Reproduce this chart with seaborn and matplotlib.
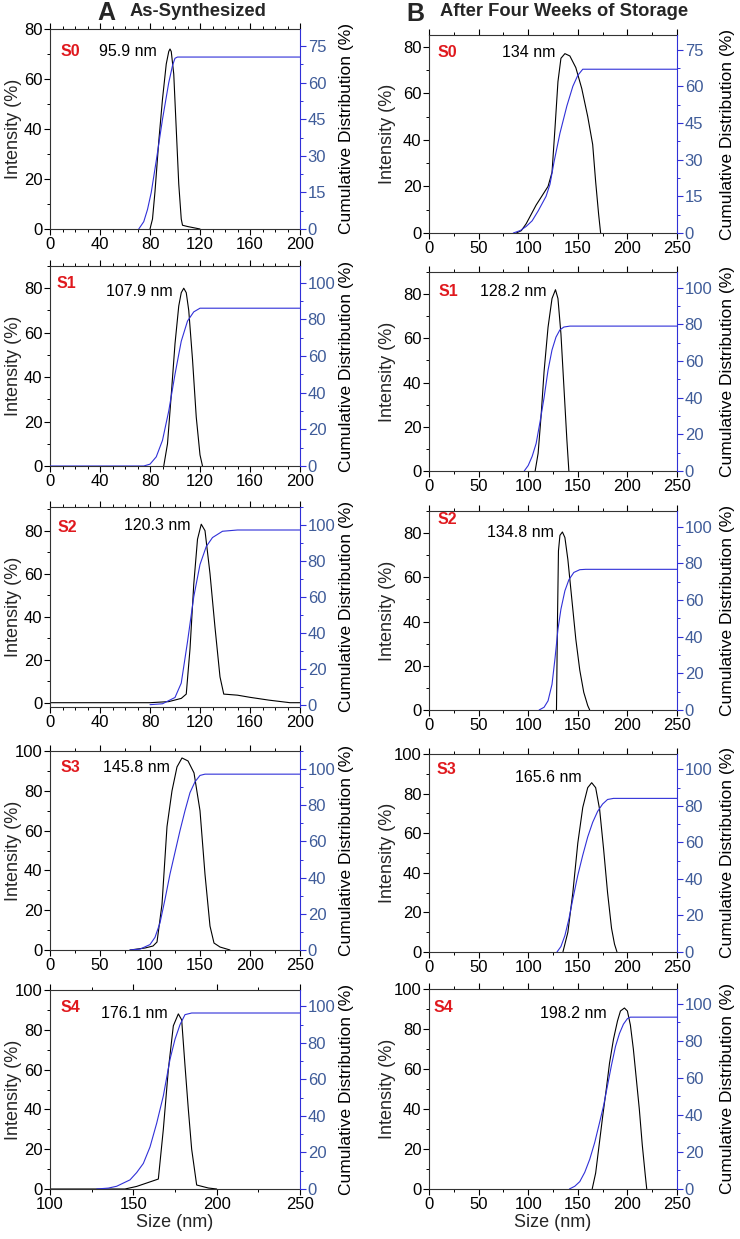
import matplotlib
matplotlib.use("Agg")
import matplotlib.pyplot as plt
import matplotlib.ticker as mticker
import seaborn as sns

# ── Data ────────────────────────────────────────────────────────────────────
SAMPLES = ["S0", "S1", "S2", "S3", "S4"]
PEAKS_A = ["95.9 nm", "107.9 nm", "120.3 nm", "145.8 nm", "176.1 nm"]
PEAKS_B = ["134 nm", "128.2 nm", "134.8 nm", "165.6 nm", "198.2 nm"]

# column A — as-synthesized
A_S0_INT_X = [80, 82, 84, 87, 90, 93, 95, 96, 97, 99, 101, 103, 105, 106, 110, 115, 120]
A_S0_INT_Y = [0, 4, 15, 35, 52, 66, 71, 72, 71, 62, 40, 18, 4, 1.5, 1, 0.5, 0]
A_S0_CUM_X = [71, 75, 78, 81, 85, 90, 95, 98, 100, 102, 200]
A_S0_CUM_Y = [0, 3, 8, 15, 28, 45, 60, 67, 70, 70.5, 70.5]

A_S1_INT_X = [91, 94, 97, 100, 103, 105, 107, 109, 111, 114, 117, 120, 122]
A_S1_INT_Y = [0, 10, 32, 55, 72, 78, 80, 78, 70, 48, 22, 5, 0]
A_S1_CUM_X = [0, 75, 80, 85, 90, 95, 100, 105, 110, 115, 120, 200]
A_S1_CUM_Y = [0, 0, 1, 5, 14, 30, 50, 68, 79, 84, 86, 86]

A_S2_INT_X = [0, 80, 95, 105, 109, 112, 115, 118, 121, 124, 128, 132, 136, 139, 150, 160, 175, 192, 200]
A_S2_INT_Y = [0, 0, 0.5, 2, 4, 25, 55, 76, 83, 80, 60, 35, 12, 4, 3.5, 2.5, 1.2, 0, 0]
A_S2_CUM_X = [80, 90, 100, 105, 110, 115, 120, 125, 130, 138, 150, 200]
A_S2_CUM_Y = [0, 0.5, 4, 12, 35, 60, 78, 88, 93, 96.5, 97.2, 97.2]

A_S3_INT_X = [80, 95, 103, 107, 112, 117, 122, 127, 132, 138, 144, 150, 155, 160, 164, 170, 180]
A_S3_INT_Y = [0, 1, 2, 4, 23, 62, 80, 92, 96.5, 95, 89, 70, 38, 12, 3.5, 1.5, 0]
A_S3_CUM_X = [80, 90, 100, 105, 110, 115, 120, 125, 130, 135, 140, 145, 150, 155, 250]
A_S3_CUM_Y = [0, 0.5, 3, 7, 15, 28, 42, 54, 66, 77, 87, 93, 96.5, 97.2, 97.2]

A_S4_INT_X = [100, 145, 152, 158, 165, 168, 171, 174, 177, 179, 181, 183, 185, 188, 195, 200]
A_S4_INT_Y = [0, 0, 1.3, 3, 5, 30, 60, 82, 88, 85, 62, 40, 20, 2, 0.5, 0]
A_S4_CUM_X = [128, 135, 140, 148, 152, 156, 160, 164, 168, 172, 175, 178, 181, 185, 250]
A_S4_CUM_Y = [0, 0.5, 1.5, 5, 9, 14, 23, 36, 51, 71, 82, 90, 95.5, 96.4, 96.4]

# column B — after four weeks of storage
B_S0_INT_X = [88, 93, 98, 103, 108, 114, 120, 124, 127, 130, 133, 137, 142, 148, 154, 160, 165, 168, 171, 173]
B_S0_INT_Y = [0, 1, 4, 8, 12, 16, 20, 26, 45, 65, 75, 77, 76, 71, 62, 50, 38, 22, 8, 0]
B_S0_CUM_X = [85, 92, 98, 104, 110, 118, 122, 126, 132, 139, 145, 150, 155, 250]
B_S0_CUM_Y = [0, 1, 2.7, 5, 9, 15, 20, 29, 40.8, 52, 60, 64.5, 67, 67]

B_S1_INT_X = [107, 110, 113, 116, 120, 124, 127.5, 130, 133, 136, 139, 141]
B_S1_INT_Y = [0, 8, 25, 45, 65, 78, 82, 78, 62, 38, 14, 0]
B_S1_CUM_X = [96, 100, 104, 108, 112, 116, 120, 124, 128, 132, 136, 142, 250]
B_S1_CUM_Y = [0, 3, 8, 15, 27, 40, 55, 66, 73, 77, 78.5, 79, 79]

B_S2_INT_X = [128.5, 129.5, 130.5, 132, 134.5, 137, 140, 144, 148, 152, 156, 160, 162]
B_S2_INT_Y = [0, 40, 72, 79, 80.5, 78, 68, 50, 32, 18, 8, 2, 0]
B_S2_CUM_X = [111, 116, 120, 124, 127, 130, 133, 137, 141, 146, 152, 158, 250]
B_S2_CUM_Y = [0, 1.5, 5, 14, 28, 44, 55, 65, 71, 75, 76.5, 76.7, 76.7]

B_S3_INT_X = [135, 140, 145, 150, 155, 160, 164, 168, 172, 176, 180, 184, 187, 189.5]
B_S3_INT_Y = [0, 10, 30, 55, 73, 83, 85.5, 83, 72, 52, 30, 12, 4, 0]
B_S3_CUM_X = [129, 133, 137, 141, 145, 150, 155, 160, 165, 170, 175, 180, 186, 250]
B_S3_CUM_Y = [0, 3, 9, 18, 29, 42, 53, 63, 71, 77, 81, 83.5, 84.1, 84.1]

B_S4_INT_X = [164.5, 168, 172, 175, 179, 182, 186, 190, 193, 197, 200, 203, 206, 209, 212, 215, 218, 219.5]
B_S4_INT_Y = [0, 8, 24, 36, 51, 63, 75, 84, 89, 90.5, 89, 82, 70, 55, 40, 22, 7, 0]
B_S4_CUM_X = [141.5, 147, 152, 157, 162, 167, 172, 176, 180, 184, 188, 192, 196, 200, 203, 250]
B_S4_CUM_Y = [0, 1.5, 4, 9, 16, 25, 36, 45, 56, 67, 77, 84, 89, 92, 92.8, 92.8]

# ── Style ────────────────────────────────────────────────────────────────────
sns.set_theme(style="ticks")
plt.rcParams["font.family"] = ["Liberation Sans", "DejaVu Sans"]
plt.rcParams.update({
    "axes.linewidth": 0.8,
    "xtick.major.size": 4, "ytick.major.size": 4,
    "xtick.minor.size": 2.5, "ytick.minor.size": 2.5,
    "xtick.major.width": 0.8, "ytick.major.width": 0.8,
    "xtick.minor.width": 0.7, "ytick.minor.width": 0.7,
    "xtick.direction": "out", "ytick.direction": "out",
    "xtick.major.pad": 1.5, "ytick.major.pad": 1.5,
})

LINE_BLUE = "#3030d8"
TICK_BLUE = "#3f5c99"
TICK_FS = 12
LABEL_FS = 13
W, H = 740, 1239

def rect(left, top, right, bottom):
    return [left / W, (H - bottom) / H, (right - left) / W, (bottom - top) / H]

panels = [
    # column A
    dict(ix=A_S0_INT_X, iy=A_S0_INT_Y, cx=A_S0_CUM_X, cy=A_S0_CUM_Y, xl=(0, 200), xs=(40, 10),
         yl=(0, 80), yr=(0, 82), rs=(15, 7.5), box=(50, 29, 300, 229), s=SAMPLES[0], p=PEAKS_A[0],
         sp=(0.08, 0.885), pp=(0.31, 0.885)),
    dict(ix=A_S1_INT_X, iy=A_S1_INT_Y, cx=A_S1_CUM_X, cy=A_S1_CUM_Y, xl=(0, 200), xs=(40, 10),
         yl=(0, 90), yr=(0, 109), rs=(20, 10), box=(50, 266, 300, 466), s=SAMPLES[1], p=PEAKS_A[1],
         sp=(0.064, 0.915), pp=(0.358, 0.872)),
    dict(ix=A_S2_INT_X, iy=A_S2_INT_Y, cx=A_S2_CUM_X, cy=A_S2_CUM_Y, xl=(0, 200), xs=(40, 10),
         yl=(-2, 91), yr=(-1.3, 110), rs=(20, 10), box=(50, 507, 300, 707), s=SAMPLES[2], p=PEAKS_A[2],
         sp=(0.068, 0.90), pp=(0.43, 0.91)),
    dict(ix=A_S3_INT_X, iy=A_S3_INT_Y, cx=A_S3_CUM_X, cy=A_S3_CUM_Y, xl=(0, 250), xs=(50, 25),
         yl=(0, 100), yr=(0, 110), rs=(20, 10), box=(50, 751, 300, 950), s=SAMPLES[3], p=PEAKS_A[3],
         sp=(0.08, 0.917), pp=(0.344, 0.917)),
    dict(ix=A_S4_INT_X, iy=A_S4_INT_Y, cx=A_S4_CUM_X, cy=A_S4_CUM_Y, xl=(100, 250), xs=(50, 25),
         yl=(0, 100), yr=(0, 109), rs=(20, 10), box=(50, 990, 300, 1189), s=SAMPLES[4], p=PEAKS_A[4],
         sp=(0.08, 0.91), pp=(0.338, 0.88), last=True),
    # column B
    dict(ix=B_S0_INT_X, iy=B_S0_INT_Y, cx=B_S0_CUM_X, cy=B_S0_CUM_Y, xl=(0, 250), xs=(50, 25),
         yl=(0, 85), yr=(0, 81), rs=(15, 7.5), box=(429, 35, 677, 233), s=SAMPLES[0], p=PEAKS_B[0],
         sp=(0.075, 0.91), pp=(0.40, 0.91)),
    dict(ix=B_S1_INT_X, iy=B_S1_INT_Y, cx=B_S1_CUM_X, cy=B_S1_CUM_Y, xl=(0, 250), xs=(50, 25),
         yl=(0, 90), yr=(0, 108.5), rs=(20, 10), box=(429, 272, 677, 471), s=SAMPLES[1], p=PEAKS_B[1],
         sp=(0.077, 0.90), pp=(0.34, 0.90)),
    dict(ix=B_S2_INT_X, iy=B_S2_INT_Y, cx=B_S2_CUM_X, cy=B_S2_CUM_Y, xl=(0, 250), xs=(50, 25),
         yl=(0, 90), yr=(0, 108.5), rs=(20, 10), box=(429, 511, 677, 710), s=SAMPLES[2], p=PEAKS_B[2],
         sp=(0.075, 0.955), pp=(0.367, 0.89)),
    dict(ix=B_S3_INT_X, iy=B_S3_INT_Y, cx=B_S3_CUM_X, cy=B_S3_CUM_Y, xl=(0, 250), xs=(50, 25),
         yl=(0, 100), yr=(0, 108.4), rs=(20, 10), box=(429, 754, 677, 952), s=SAMPLES[3], p=PEAKS_B[3],
         sp=(0.07, 0.92), pp=(0.48, 0.88)),
    dict(ix=B_S4_INT_X, iy=B_S4_INT_Y, cx=B_S4_CUM_X, cy=B_S4_CUM_Y, xl=(0, 250), xs=(50, 25),
         yl=(0, 100), yr=(0, 108), rs=(20, 10), box=(429, 989, 677, 1189), s=SAMPLES[4], p=PEAKS_B[4],
         sp=(0.06, 0.91), pp=(0.58, 0.88), last=True),
]

fig = plt.figure(figsize=(W / 100, H / 100), dpi=100)

for pn in panels:
    left, top, right, bottom = pn["box"]
    width = right - left
    col_a = left < 200
    ax = fig.add_axes(rect(*pn["box"]))
    sns.lineplot(x=pn["ix"], y=pn["iy"], ax=ax, color="black", lw=0.8,
                 sort=False, estimator=None)
    ax.set_xlim(*pn["xl"])
    ax.set_ylim(*pn["yl"])
    ax.xaxis.set_major_locator(mticker.MultipleLocator(pn["xs"][0]))
    ax.xaxis.set_minor_locator(mticker.MultipleLocator(pn["xs"][1]))
    ax.yaxis.set_major_locator(mticker.MultipleLocator(20))
    ax.yaxis.set_minor_locator(mticker.MultipleLocator(10))
    ax.tick_params(axis="x", which="both", top=True, labeltop=False, labelsize=TICK_FS, colors="black")
    ax.tick_params(axis="y", which="both", right=False, labelsize=TICK_FS, colors="black")
    ax.spines["right"].set_visible(False)
    for sp in ["left", "bottom", "top"]:
        ax.spines[sp].set_color("#333333")
    ax.set_ylabel("Intensity (%)", fontsize=LABEL_FS)
    # fixed label column (anchor is the label's right edge), independent of tick label width
    ax.yaxis.set_label_coords(((22 if col_a else 396) - left) / width, 0.5)
    if pn.get("last"):
        ax.set_xlabel("Size (nm)", fontsize=LABEL_FS, labelpad=2)
    else:
        ax.set_xlabel("")
    ax.text(*pn["sp"], pn["s"], transform=ax.transAxes, color="#e0191e", fontsize=11.5,
            fontweight="bold", ha="center", va="center")
    ax.text(*pn["pp"], pn["p"], transform=ax.transAxes, color="black", fontsize=11.5,
            ha="center", va="center")

    ax2 = ax.twinx()
    sns.lineplot(x=pn["cx"], y=pn["cy"], ax=ax2, color=LINE_BLUE, lw=0.8,
                 sort=False, estimator=None)
    ax2.set_ylim(*pn["yr"])
    ax2.yaxis.set_major_locator(mticker.MultipleLocator(pn["rs"][0]))
    ax2.yaxis.set_minor_locator(mticker.MultipleLocator(pn["rs"][1]))
    ax2.tick_params(axis="y", which="both", colors=LINE_BLUE, labelcolor=TICK_BLUE, labelsize=TICK_FS)
    for sp in ["left", "bottom", "top"]:
        ax2.spines[sp].set_visible(False)
    ax2.spines["right"].set_color(LINE_BLUE)
    ax2.set_ylabel("Cumulative Distribution (%)", fontsize=12.5, color="black")
    # anchor is the label's left edge
    ax2.yaxis.set_label_coords(((339 if col_a else 720) - left) / width, 0.5)

# ── Column headers ───────────────────────────────────────────────────────────
fig.text(106 / W, 1 - 13 / H, "A", fontsize=18, fontweight="bold", ha="center", va="center")
fig.text(130 / W, 1 - 12 / H, "As-Synthesized", fontsize=13.2, fontweight="bold", ha="left", va="center")
fig.text(415 / W, 1 - 14 / H, "B", fontsize=18, fontweight="bold", ha="center", va="center")
fig.text(440 / W, 1 - 12 / H, "After Four Weeks of Storage", fontsize=13.2, fontweight="bold",
         ha="left", va="center")

fig.savefig("out.png", dpi=100)
